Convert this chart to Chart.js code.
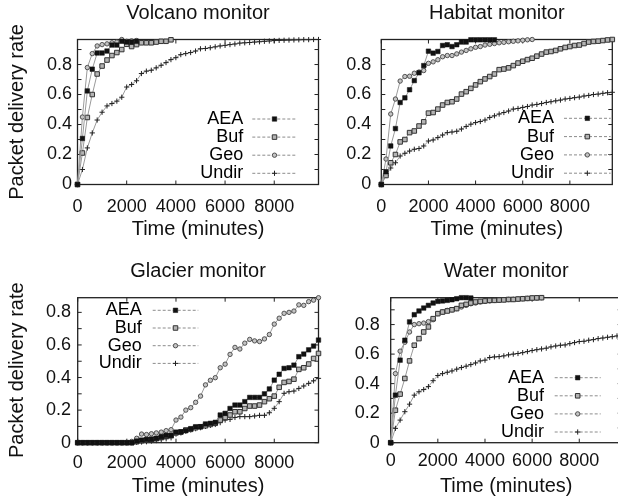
<!DOCTYPE html>
<html>
<head>
<meta charset="UTF-8">
<title>Packet delivery rate</title>
<style>
  html, body { margin: 0; padding: 0; background: #fff; overflow: hidden; }
  .page { position: relative; width: 618px; height: 502px; overflow: hidden; background: #fff; }
  .page canvas { position: absolute; }
</style>
</head>
<body>
<div class="page">
  <canvas id="volcano" width="330" height="251" style="left:0;top:0;width:330px;height:251px"></canvas>
  <canvas id="habitat" width="309" height="251" style="left:309px;top:0;width:309px;height:251px"></canvas>
  <canvas id="glacier" width="330" height="251" style="left:0;top:251px;width:330px;height:251px"></canvas>
  <canvas id="water" width="320" height="251" style="left:309px;top:251px;width:320px;height:251px"></canvas>
</div>

<script src="https://cdn.jsdelivr.net/npm/chart.js@4.4.1/dist/chart.umd.min.js"></script>
<script>
  // time (minutes), one sample every 200
  const TIME = [0, 200, 400, 600, 800, 1000, 1200, 1400, 1600, 1800,
    2000, 2200, 2400, 2600, 2800, 3000, 3200, 3400, 3600, 3800,
    4000, 4200, 4400, 4600, 4800, 5000, 5200, 5400, 5600, 5800,
    6000, 6200, 6400, 6600, 6800, 7000, 7200, 7400, 7600, 7800,
    8000, 8200, 8400, 8600, 8800, 9000, 9200, 9400, 9600, 9800];

  const SERIES = ['AEA', 'Buf', 'Geo', 'Undir'];
  const X_TICKS = [0, 2000, 4000, 6000, 8000];
  const Y_TICKS = [0, 0.1, 0.2, 0.3, 0.4, 0.5, 0.6, 0.7, 0.8, 0.9];

  // Volcano monitor
  const VOLCANO_AEA = [0, 0.307, 0.624, 0.769, 0.877, 0.877, 0.89, 0.93, 0.93, 0.955, 0.95, 0.95, 0.955];
  const VOLCANO_BUF = [0, 0.21, 0.447, 0.6, 0.737, 0.79, 0.83, 0.86, 0.88, 0.9, 0.935, 0.92, 0.933, 0.945, 0.945, 0.945, 0.95, 0.955, 0.955, 0.965];
  const VOLCANO_GEO = [0, 0.45, 0.78, 0.873, 0.924, 0.933, 0.938, 0.945, 0.95, 0.967, 0.955, 0.958, 0.96];
  const VOLCANO_UNDIR = [0, 0.1, 0.244, 0.344, 0.43, 0.482, 0.524, 0.54, 0.556, 0.582,
    0.65, 0.667, 0.692, 0.74, 0.756, 0.762, 0.778, 0.795, 0.813, 0.833,
    0.846, 0.866, 0.873, 0.88, 0.89, 0.905, 0.907, 0.912, 0.918, 0.924,
    0.928, 0.933, 0.937, 0.943, 0.945, 0.947, 0.95, 0.952, 0.955, 0.957,
    0.96, 0.961, 0.962, 0.963, 0.964, 0.965, 0.966, 0.966, 0.967, 0.967];

  // Habitat monitor
  const HABITAT_AEA = [0, 0.085, 0.257, 0.373, 0.547, 0.578, 0.632, 0.693, 0.745, 0.793,
    0.889, 0.876, 0.887, 0.927, 0.932, 0.92, 0.932, 0.95, 0.95, 0.965,
    0.965, 0.965, 0.965, 0.965, 0.965];
  const HABITAT_BUF = [0, 0.06, 0.145, 0.2, 0.284, 0.3, 0.346, 0.357, 0.39, 0.418,
    0.476, 0.48, 0.503, 0.53, 0.547, 0.552, 0.57, 0.603, 0.619, 0.641,
    0.664, 0.686, 0.704, 0.72, 0.737, 0.766, 0.77, 0.778, 0.793, 0.81,
    0.822, 0.833, 0.842, 0.856, 0.87, 0.883, 0.887, 0.894, 0.905, 0.914,
    0.92, 0.927, 0.93, 0.94, 0.95, 0.954, 0.956, 0.96, 0.964, 0.967];
  const HABITAT_GEO = [0, 0.17, 0.47, 0.57, 0.69, 0.72, 0.722, 0.742, 0.75, 0.76,
    0.808, 0.818, 0.832, 0.852, 0.86, 0.86, 0.871, 0.883, 0.894, 0.905,
    0.915, 0.92, 0.93, 0.935, 0.94, 0.945, 0.948, 0.952, 0.955, 0.958,
    0.962, 0.965, 0.967];
  const HABITAT_UNDIR = [0, 0.06, 0.11, 0.145, 0.19, 0.208, 0.223, 0.235, 0.24, 0.257,
    0.29, 0.297, 0.313, 0.33, 0.346, 0.35, 0.355, 0.37, 0.387, 0.402,
    0.413, 0.42, 0.43, 0.447, 0.458, 0.47, 0.48, 0.49, 0.503, 0.507,
    0.514, 0.52, 0.53, 0.534, 0.54, 0.547, 0.552, 0.558, 0.563, 0.57,
    0.574, 0.579, 0.583, 0.59, 0.594, 0.6, 0.603, 0.608, 0.612, 0.615];

  // Glacier monitor
  const GLACIER_AEA = [0, 0, 0, 0, 0, 0, 0, 0, 0, 0,
    0, 0, 0.01, 0.016, 0.02, 0.022, 0.027, 0.037, 0.045, 0.045,
    0.065, 0.065, 0.074, 0.086, 0.098, 0.098, 0.115, 0.119, 0.125, 0.17,
    0.18, 0.21, 0.231, 0.231, 0.252, 0.278, 0.278, 0.278, 0.3, 0.33,
    0.384, 0.42, 0.456, 0.46, 0.476, 0.528, 0.544, 0.57, 0.593, 0.63];
  const GLACIER_BUF = [0, 0, 0, 0, 0, 0, 0, 0, 0, 0,
    0, 0, 0.006, 0.012, 0.016, 0.02, 0.025, 0.033, 0.04, 0.045,
    0.06, 0.067, 0.078, 0.082, 0.092, 0.098, 0.104, 0.112, 0.119, 0.139,
    0.155, 0.17, 0.19, 0.19, 0.21, 0.225, 0.225, 0.231, 0.252, 0.27,
    0.286, 0.34, 0.37, 0.376, 0.39, 0.45, 0.46, 0.483, 0.517, 0.548];
  const GLACIER_GEO = [0, 0, 0, 0, 0, 0, 0, 0, 0, 0,
    0, 0.008, 0.027, 0.053, 0.05, 0.055, 0.06, 0.065, 0.074, 0.08,
    0.139, 0.157, 0.2, 0.215, 0.248, 0.286, 0.355, 0.383, 0.399, 0.46,
    0.482, 0.542, 0.585, 0.575, 0.611, 0.634, 0.625, 0.621, 0.637, 0.664,
    0.728, 0.764, 0.794, 0.8, 0.808, 0.846, 0.843, 0.866, 0.875, 0.89];
  const GLACIER_UNDIR = [0, 0, 0, 0, 0, 0, 0, 0, 0, 0,
    0, 0, 0.002, 0.004, 0.006, 0.01, 0.013, 0.018, 0.024, 0.03,
    0.053, 0.06, 0.07, 0.078, 0.086, 0.092, 0.1, 0.106, 0.112, 0.123,
    0.139, 0.143, 0.155, 0.16, 0.16, 0.16, 0.164, 0.168, 0.168, 0.184,
    0.211, 0.252, 0.303, 0.313, 0.317, 0.333, 0.348, 0.364, 0.38, 0.395];

  // Water monitor
  const WATER_AEA = [0, 0.322, 0.559, 0.694, 0.818, 0.867, 0.892, 0.912, 0.93, 0.946,
    0.957, 0.96, 0.964, 0.968, 0.975, 0.982, 0.982, 0.98];
  const WATER_BUF = [0, 0.22, 0.329, 0.435, 0.554, 0.66, 0.705, 0.75, 0.784, 0.84,
    0.874, 0.885, 0.892, 0.9, 0.908, 0.93, 0.937, 0.946, 0.953, 0.957,
    0.96, 0.964, 0.964, 0.966, 0.967, 0.97, 0.97, 0.973, 0.975, 0.977,
    0.98, 0.981, 0.982];
  const WATER_GEO = [0, 0.468, 0.62, 0.68, 0.75, 0.8, 0.806, 0.81, 0.82, 0.833,
    0.874, 0.885, 0.896, 0.9, 0.908, 0.919, 0.93, 0.941, 0.946, 0.953,
    0.957, 0.96, 0.964, 0.965, 0.968, 0.97, 0.971, 0.973, 0.975, 0.977,
    0.979, 0.98, 0.982];
  const WATER_UNDIR = [0, 0.097, 0.153, 0.21, 0.261, 0.322, 0.345, 0.36, 0.38, 0.42,
    0.455, 0.468, 0.477, 0.486, 0.498, 0.509, 0.518, 0.529, 0.54, 0.554,
    0.559, 0.577, 0.581, 0.583, 0.588, 0.595, 0.6, 0.604, 0.61, 0.617,
    0.624, 0.63, 0.635, 0.64, 0.649, 0.655, 0.66, 0.662, 0.671, 0.678,
    0.685, 0.687, 0.694, 0.698, 0.705, 0.709, 0.714, 0.718, 0.723, 0.727];

  const FONT = '"Liberation Sans", Arial, Helvetica, sans-serif';
  Chart.defaults.font.family = FONT;
  Chart.defaults.color = '#111';

  const MARKERS = {
    AEA:   { pointStyle: 'rect',   pointRadius: 3.2, pointBackgroundColor: '#111',    pointBorderColor: '#111', pointBorderWidth: 0.5 },
    Buf:   { pointStyle: 'rect',   pointRadius: 3.2, pointBackgroundColor: '#b4b4b4', pointBorderColor: '#333', pointBorderWidth: 1 },
    Geo:   { pointStyle: 'circle', pointRadius: 2.2, pointBackgroundColor: '#c4c4c4', pointBorderColor: '#444', pointBorderWidth: 0.9 },
    Undir: { pointStyle: 'cross',  pointRadius: 2.6, pointBackgroundColor: '#222',    pointBorderColor: '#222', pointBorderWidth: 1 }
  };

  // box round the plot and gnuplot-like inward ticks on all four sides
  const framePlugin = {
    id: 'frame',
    beforeDatasetsDraw(chart) {
      const { ctx, chartArea: a, scales: { x, y } } = chart;
      ctx.save();
      ctx.strokeStyle = '#222';
      ctx.lineWidth = 1;
      ctx.beginPath();
      y.ticks.forEach(t => {
        const py = y.getPixelForValue(t.value);
        ctx.moveTo(a.left, py); ctx.lineTo(a.left + 4, py);
        ctx.moveTo(a.right - 4, py); ctx.lineTo(a.right, py);
      });
      x.ticks.forEach(t => {
        const px = x.getPixelForValue(t.value);
        ctx.moveTo(px, a.bottom); ctx.lineTo(px, a.bottom - 4);
        ctx.moveTo(px, a.top); ctx.lineTo(px, a.top + 4);
      });
      ctx.stroke();
      ctx.lineWidth = 1.3;
      ctx.strokeRect(a.left, a.top, a.right - a.left, a.bottom - a.top);
      ctx.restore();
    }
  };

  // key: right aligned names, dashed sample line with the marker in the middle
  const keyPlugin = {
    id: 'key',
    afterDraw(chart, args, opts) {
      const { ctx } = chart;
      ctx.save();
      ctx.font = '18px ' + FONT;
      ctx.textAlign = 'right';
      ctx.textBaseline = 'middle';
      chart.data.datasets.forEach((ds, i) => {
        const y = opts.top + i * opts.step;
        ctx.fillStyle = '#000';
        ctx.fillText(ds.label, opts.textRight, y);
        ctx.strokeStyle = '#8c8c8c';
        ctx.lineWidth = 1;
        ctx.setLineDash([3, 2]);
        ctx.beginPath();
        ctx.moveTo(opts.lineLeft, y);
        ctx.lineTo(opts.lineRight, y);
        ctx.stroke();
        ctx.setLineDash([]);
        ctx.fillStyle = ds.pointBackgroundColor;
        ctx.strokeStyle = ds.pointBorderColor;
        ctx.lineWidth = ds.pointBorderWidth;
        Chart.helpers.drawPoint(ctx, {
          pointStyle: ds.pointStyle, radius: ds.pointRadius, rotation: 0, borderWidth: ds.pointBorderWidth
        }, (opts.lineLeft + opts.lineRight) / 2, y);
      });
      ctx.restore();
    }
  };

  function makePanel(id, title, values, ymax, L) {
    const datasets = SERIES.map((name, i) => Object.assign({
      label: name,
      data: values[i].map((v, j) => ({ x: TIME[j], y: v })),
      borderColor: '#9a9a9a',
      borderWidth: 1,
      tension: 0,
      fill: false,
      clip: false
    }, MARKERS[name]));

    return new Chart(document.getElementById(id), {
      type: 'line',
      data: { datasets },
      plugins: [framePlugin, keyPlugin],
      options: {
        responsive: false,
        animation: false,
        devicePixelRatio: 1,
        events: [],
        layout: { padding: { left: 0, right: L.padRight, top: 0, bottom: 0 } },
        plugins: {
          legend: { display: false },
          tooltip: { enabled: false },
          title: {
            display: true,
            text: title,
            fullSize: false,
            color: '#111',
            font: { size: 20, weight: 'normal' },
            padding: L.titlePad
          },
          key: L.key
        },
        scales: {
          x: {
            type: 'linear',
            min: 0,
            max: 9800,
            grid: { display: false, drawTicks: false },
            border: { display: false },
            afterBuildTicks: s => { s.ticks = X_TICKS.map(v => ({ value: v })); },
            ticks: {
              autoSkip: false,
              maxRotation: 0,
              padding: L.xTickPad,
              font: { size: 18 },
              color: '#111',
              callback: v => String(v)
            },
            title: {
              display: true,
              text: 'Time (minutes)',
              color: '#111',
              font: { size: 20 },
              padding: { top: 0, bottom: L.xTitlePad }
            },
            afterFit: s => { s.height = L.xHeight; }
          },
          y: {
            min: 0,
            max: ymax,
            grid: { display: false, drawTicks: false },
            border: { display: false },
            afterBuildTicks: s => { s.ticks = Y_TICKS.filter(v => v <= ymax).map(v => ({ value: v })); },
            ticks: {
              autoSkip: false,
              padding: L.yTickPad,
              font: { size: 18 },
              color: '#111',
              callback: v => {
                const k = Math.round(v * 10);
                return k % 2 === 0 ? String(k / 10) : '';
              }
            },
            title: {
              display: L.yTitle,
              text: 'Packet delivery rate',
              color: '#111',
              font: { size: 20 },
              padding: { top: 5.5, bottom: 0 }
            },
            afterFit: s => { s.width = L.yWidth; }
          }
        }
      }
    });
  }

  makePanel('volcano', 'Volcano monitor',
    [VOLCANO_AEA, VOLCANO_BUF, VOLCANO_GEO, VOLCANO_UNDIR], 0.967, {
      padRight: 11.5, yWidth: 77.5, xHeight: 66.5, yTitle: true,
      titlePad: { top: 1, bottom: 14.5 }, xTickPad: 11.5, xTitlePad: 9.5, yTickPad: 5.5,
      key: { textRight: 243.3, lineLeft: 252.3, lineRight: 296.7, top: 119, step: 18.1 }
    });

  makePanel('habitat', 'Habitat monitor',
    [HABITAT_AEA, HABITAT_BUF, HABITAT_GEO, HABITAT_UNDIR], 0.967, {
      padRight: 5.7, yWidth: 72.3, xHeight: 66.5, yTitle: false,
      titlePad: { top: 1, bottom: 14.5 }, xTickPad: 11.5, xTitlePad: 9.5, yTickPad: 10,
      key: { textRight: 245, lineLeft: 255, lineRight: 301.7, top: 118.3, step: 18.3 }
    });

  makePanel('glacier', 'Glacier monitor',
    [GLACIER_AEA, GLACIER_BUF, GLACIER_GEO, GLACIER_UNDIR], 0.89, {
      padRight: 11.5, yWidth: 77.7, xHeight: 59.3, yTitle: true,
      titlePad: { top: 8.3, bottom: 14.4 }, xTickPad: 9.2, xTitlePad: 3.7, yTickPad: 6.7,
      key: { textRight: 141.7, lineLeft: 152.7, lineRight: 198.3, top: 59.3, step: 17.7 }
    });

  makePanel('water', 'Water monitor',
    [WATER_AEA, WATER_BUF, WATER_GEO, WATER_UNDIR], 0.982, {
      padRight: 7.3, yWidth: 81.7, xHeight: 59.3, yTitle: false,
      titlePad: { top: 8.3, bottom: 14.4 }, xTickPad: 7.5, xTitlePad: 3.7, yTickPad: 11,
      key: { textRight: 235, lineLeft: 245.7, lineRight: 291.7, top: 126.7, step: 18.1 }
    });
</script>
</body>
</html>
